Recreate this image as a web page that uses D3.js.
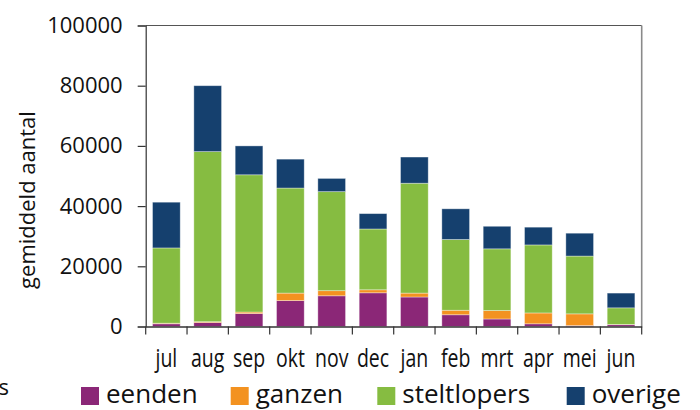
<!DOCTYPE html>
<html>
<head>
<meta charset="utf-8">
<script src="https://cdn.jsdelivr.net/npm/d3@7/dist/d3.min.js"></script>
<style>
  html, body { margin: 0; padding: 0; background: #fff; }
  svg { display: block; font-family: "Open Sans", "Noto Sans", sans-serif; }
</style>
</head>
<body>
<svg id="chart" width="700" height="410"></svg>
<script>
// Monthly averages per bird group (gemiddeld aantal)
const months = ["jul", "aug", "sep", "okt", "nov", "dec", "jan", "feb", "mrt", "apr", "mei", "jun"];
const eenden      = [900, 1300, 4300, 8600, 10200, 11200, 9800, 3900, 2500, 900, 300, 600];
const ganzen      = [200, 300, 500, 2500, 1700, 1000, 1300, 1500, 2800, 3600, 3900, 100];
const steltlopers = [25000, 56500, 45600, 34900, 32900, 20200, 36500, 23500, 20500, 22600, 19200, 5500];
const overige     = [15200, 21900, 9600, 9600, 4400, 5100, 8700, 10200, 7500, 5900, 7600, 4900];
const seriesNames = ["eenden", "ganzen", "steltlopers", "overige"];
const yTicks = [0, 20000, 40000, 60000, 80000, 100000];

const colors = {
  eenden: "#8B2777",
  ganzen: "#F39220",
  steltlopers: "#86BC41",
  overige: "#15406E"
};

const rows = months.map((m, i) => ({
  month: m,
  eenden: eenden[i],
  ganzen: ganzen[i],
  steltlopers: steltlopers[i],
  overige: overige[i]
}));

const svg = d3.select("#chart");
const plotLeft = 145.7, plotRight = 641.7, plotTop = 25.5, plotBottom = 326.5;

const x = d3.scaleBand()
  .domain(months)
  .range([plotLeft, plotRight])
  .paddingInner(0.33)
  .paddingOuter(0.165);

const y = d3.scaleLinear()
  .domain([0, 100000])
  .range([plotBottom, plotTop]);

// plot frame (top and right edges)
svg.append("line")
  .attr("x1", plotLeft).attr("x2", plotRight).attr("y1", plotTop).attr("y2", plotTop)
  .attr("stroke", "#555").attr("stroke-width", 1.2);
svg.append("line")
  .attr("x1", plotRight).attr("x2", plotRight).attr("y1", plotTop).attr("y2", plotBottom)
  .attr("stroke", "#8a8a8a").attr("stroke-width", 1.6);

// stacked bars
const stacked = d3.stack().keys(seriesNames)(rows);
svg.append("g")
  .selectAll("g")
  .data(stacked)
  .join("g")
  .attr("fill", d => colors[d.key])
  .selectAll("rect")
  .data(d => d)
  .join("rect")
  .attr("x", d => x(d.data.month))
  .attr("width", x.bandwidth())
  .attr("y", d => y(d[1]))
  .attr("height", d => y(d[0]) - y(d[1]))
  .attr("stroke", "rgba(255,255,255,0.45)")
  .attr("stroke-width", 0.8);

// y axis
const yAxis = svg.append("g")
  .attr("transform", `translate(${plotLeft},0)`)
  .call(d3.axisLeft(y).tickValues(yTicks).tickFormat(d3.format("d")).tickSize(8).tickPadding(15));
yAxis.select(".domain").attr("stroke", "#333").attr("stroke-width", 1.2);
yAxis.selectAll(".tick line").attr("stroke", "#333").attr("stroke-width", 1.2);
yAxis.selectAll(".tick text")
  .attr("font-size", 22)
  .attr("font-family", "Open Sans, Noto Sans, sans-serif")
  .attr("fill", "#111");

// x axis with month labels at category centres
const xAxis = svg.append("g")
  .attr("transform", `translate(0,${plotBottom})`)
  .call(d3.axisBottom(x).tickSize(0));
xAxis.select(".domain").attr("stroke", "#333").attr("stroke-width", 1.4);
xAxis.selectAll(".tick text")
  .attr("font-size", 26)
  .attr("font-weight", 500)
  .attr("font-family", "Open Sans, Noto Sans, sans-serif")
  .attr("fill", "#111")
  .attr("y", 40.5)
  .attr("dy", 0)
  .attr("transform", "scale(0.75,1)");

// tick marks on category boundaries
const gap = (x.step() - x.bandwidth()) / 2;
const boundaries = months.map(m => x(m) - gap).concat([x(months[months.length - 1]) + x.bandwidth() + gap]);
svg.append("g")
  .selectAll("line")
  .data(boundaries)
  .join("line")
  .attr("x1", d => d).attr("x2", d => d)
  .attr("y1", plotBottom).attr("y2", plotBottom + 8)
  .attr("stroke", "#333").attr("stroke-width", 1.2);

// y axis title
svg.append("text")
  .attr("transform", "translate(34.5,200) rotate(-90)")
  .attr("text-anchor", "middle")
  .attr("font-size", 22)
  .attr("fill", "#111")
  .text("gemiddeld aantal");

// stray label at the lower left edge
svg.append("text")
  .attr("x", 9).attr("y", 395)
  .attr("text-anchor", "end")
  .attr("font-size", 22)
  .attr("fill", "#111")
  .text("s");

// legend
const legendX = [81, 230.7, 377.3, 566.7];
const legend = svg.append("g")
  .selectAll("g")
  .data(seriesNames)
  .join("g")
  .attr("transform", (d, i) => `translate(${legendX[i]},387)`);
legend.append("rect")
  .attr("width", 18).attr("height", 18)
  .attr("fill", d => colors[d]);
legend.append("text")
  .attr("x", 25).attr("y", 16)
  .attr("font-size", 26)
  .attr("fill", "#111")
  .text(d => d);
</script>
</body>
</html>
